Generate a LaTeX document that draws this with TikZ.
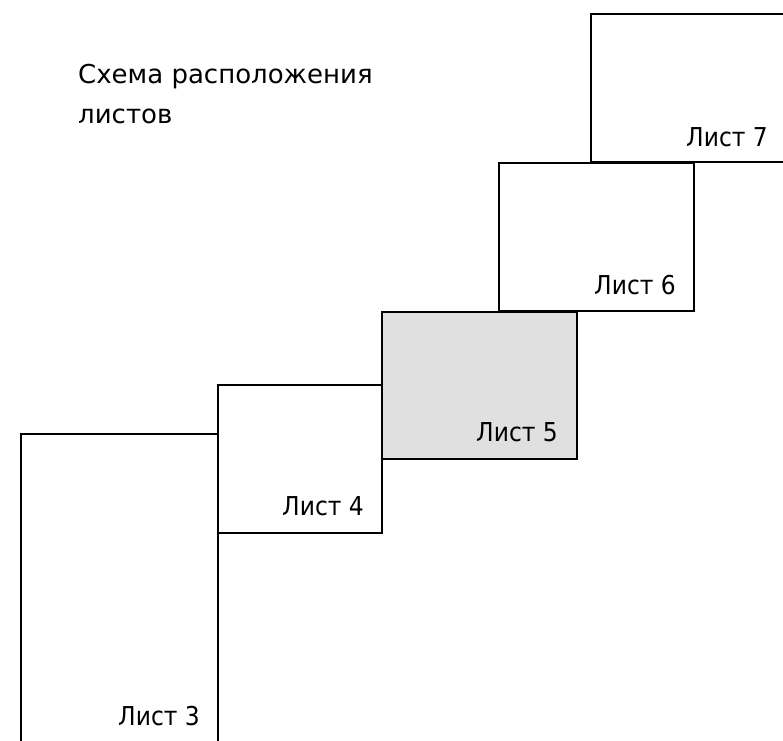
\documentclass[tikz,border=0pt]{standalone}
\usepackage{fontspec}
\setmainfont{DejaVu Sans}
\newfontfamily\sheetfont{DejaVu Sans Condensed}
\definecolor{sheetgray}{RGB}{224,224,224}
\tikzset{
  sheet/.style={line width=1.6pt},
  lbl/.style={anchor=base east, inner sep=0pt, font=\sheetfont\fontsize{26}{30}\selectfont},
  ttl/.style={anchor=base west, inner sep=0pt, font=\fontsize{26}{30}\selectfont}
}

\begin{document}
\begin{tikzpicture}[x=1pt,y=-1pt]
\useasboundingbox (0,0) rectangle (783,740);
\clip (0,0) rectangle (783,740);
% sheets
\draw[sheet] (21,434) rectangle (218,760);
\draw[sheet] (218,385) rectangle (382,533);
\filldraw[sheet, fill=sheetgray] (382,312) rectangle (577,459);
\draw[sheet] (499,163) rectangle (694,311);
\draw[sheet] (591,14) rectangle (786,162);
% labels
\node[lbl] (list3) at (200,725) {Лист 3};
\node[lbl] (list4) at (364,515) {Лист 4};
\node[lbl] (list5) at (558,441) {Лист 5};
\node[lbl] (list6) at (676,294) {Лист 6};
\node[lbl] (list7) at (768,146) {Лист 7};
% title
\node[ttl] (title1) at (78,83) {Схема расположения};
\node[ttl] (title2) at (78,123) {листов};
\end{tikzpicture}
\end{document}
